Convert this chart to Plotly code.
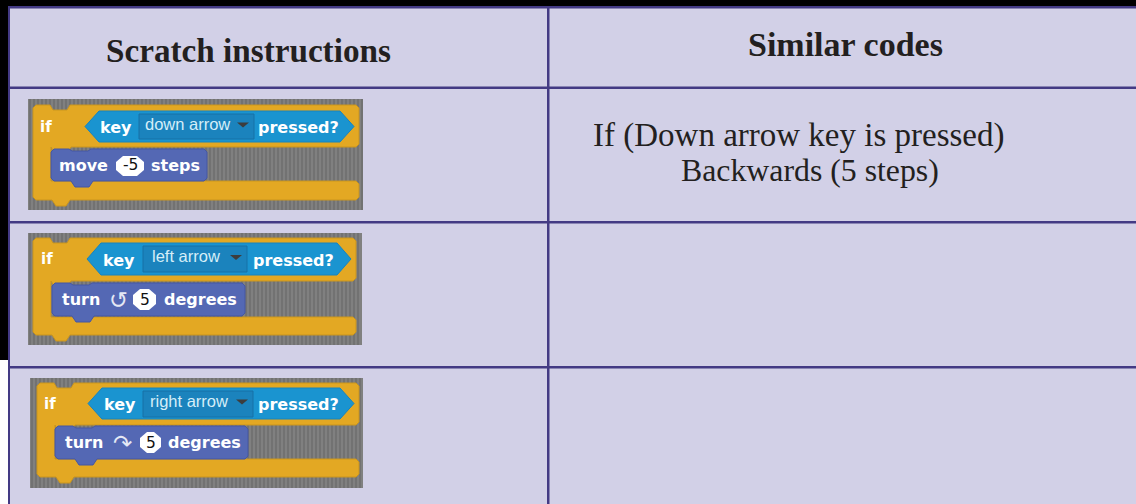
import plotly.graph_objects as go

# ---- content ----
headers = ["Scratch instructions", "Similar codes"]
conditions = ["down arrow", "left arrow", "right arrow"]
verbs = ["move", "turn", "turn"]
icons = ["", "\u21ba", "\u21b7"]
amounts = ["-5", "5", "5"]
units = ["steps", "degrees", "degrees"]
code_lines = ["If (Down arrow key is pressed)", "Backwards (5 steps)"]

# ---- layout constants ----
W, H = 1136, 504
BG = "#d2d0e7"; LINE = "#433a84"; ORANGE = "#e3a823"; ORANGE_D = "#c9951f"
BLUE = "#1a94d0"; DROP = "#1b83bd"; PURPLE = "#5468b4"; GRAY = "#808080"; STRIPE = "#6e6e6e"
INK = "#231f20"
SERIF = "Liberation Serif"; SANS = "DejaVu Sans"

GEOM = [
 dict(g=(28,363,99,210), o=(33,359,105,147,181,200), h=(85,354,111,142), d=(139,254,114,139),
      b=(51,207,149,181), p=(118,142,157,175), key=116, cond=184, press=298, iff=46, verb=83, num=130,
      unit=175, icon=0),
 dict(g=(28,362,233,345), o=(33,356,238,281,317,335), h=(87,351,243,275), d=(143,247,246,272),
      b=(52,245,283,316), p=(135,154,290,309), key=119, cond=188, press=293, iff=47, verb=81, num=144.5,
      unit=200, icon=118),
 dict(g=(30,363,378,488), o=(37,359,383,425,459,477), h=(88,354,388,419), d=(143,253,391,417),
      b=(55,248,426,459), p=(142,159,433,452), key=120, cond=191, press=298, iff=50, verb=84, num=150.5,
      unit=204, icon=122),
]

shapes, notes = [], []

def rect(x0, y0, x1, y1, fill):
    shapes.append(dict(type="rect", x0=x0, y0=y0, x1=x1, y1=y1, fillcolor=fill, line_width=0, layer="below"))

def path(d, fill, line=None, lw=0):
    shapes.append(dict(type="path", path=d, fillcolor=fill, line=dict(color=line or fill, width=lw), layer="below"))

def txt(x, y, s, size, color, family=SANS, bold=False, anchor="center"):
    t = f"<b>{s}</b>" if bold else s
    notes.append(dict(x=x, y=y, text=t, showarrow=False, xanchor=anchor, yanchor="middle",
                      font=dict(size=size, color=color, family=family)))

# page frame
rect(0, 0, W, H, "#ffffff")
rect(0, 0, W, 7, "#000000")
rect(0, 0, 8, 360, "#000000")
rect(9, 7, W, H, BG)
for x0, y0, x1, y1 in [(8, 6, W, 8.5), (8, 6, 10, H), (547, 6, 549.5, H),
                       (8, 86.5, W, 89), (8, 221, W, 223.5), (8, 366, W, 368.5)]:
    rect(x0, y0, x1, y1, LINE)

# headers and code text
txt(248, 50, headers[0], 33.2, INK, SERIF, True)
txt(845, 44, headers[1], 34, INK, SERIF, True)
txt(798.5, 135, code_lines[0], 33, INK, SERIF)
txt(810, 170, code_lines[1], 31.8, INK, SERIF)

# scratch blocks
for i, g in enumerate(GEOM):
    x0, x1, y0, y1 = g["g"]
    rect(x0, y0, x1, y1, GRAY)
    stripes = " ".join(f"M{x},{y0} V{y1}" for x in range(x0 + 2, x1, 4))
    shapes.append(dict(type="path", path=stripes, line=dict(color=STRIPE, width=1.5), layer="below"))

    l, r, top, hb, at, ab = g["o"]
    d = (f"M{l+3},{top} H{l+17} L{l+20},{top+5} H{l+34} L{l+37},{top} H{r-3} L{r},{top+3} V{hb-3} L{r-3},{hb} "
         f"H{l+38} L{l+35},{hb+5} H{l+21} L{l+18},{hb} V{at} H{r-3} L{r},{at+3} V{ab-3} L{r-3},{ab} "
         f"H{l+37} L{l+33},{ab+6} H{l+23} L{l+19},{ab} H{l+3} L{l},{ab-3} V{top+3} Z")
    path(d, ORANGE, ORANGE_D, 1)
    txt(g["iff"], (g["h"][2] + g["h"][3]) / 2, "if", 15, "#ffffff", SANS, True)

    hx0, hx1, hy0, hy1 = g["h"]
    ym = (hy0 + hy1) / 2
    path(f"M{hx0},{ym} L{hx0+14},{hy0} H{hx1-14} L{hx1},{ym} L{hx1-14},{hy1} H{hx0+14} Z", BLUE, "#1784be", 1)
    dx0, dx1, dy0, dy1 = g["d"]
    shapes.append(dict(type="rect", x0=dx0, y0=dy0, x1=dx1, y1=dy1, fillcolor=DROP,
                       line=dict(color="#1670a6", width=1), layer="below"))
    path(f"M{dx1-17},{ym-4} H{dx1-5} L{dx1-11},{ym+1} Z", "#3d3d3d")
    txt(g["key"], ym + 1, "key", 16, "#ffffff", SANS, True)
    txt((dx0 + dx1 - 18) / 2, ym - 3, conditions[i], 16.5, "#d5eef8", "Liberation Sans")
    txt(g["press"], ym + 1, "pressed?", 16, "#ffffff", SANS, True)

    bx0, bx1, by0, by1 = g["b"]
    path(f"M{bx0+3},{by0} H{bx0+18} L{bx0+21},{by0+2} H{bx0+37} L{bx0+40},{by0} H{bx1-3} L{bx1},{by0+3} V{by1-3} L{bx1-3},{by1} "
         f"H{bx0+42} L{bx0+38},{by1+6} H{bx0+24} L{bx0+20},{by1} H{bx0+3} L{bx0},{by1-3} V{by0+3} Z",
         PURPLE, "#4557a3", 1)
    bm = (by0 + by1) / 2
    txt(g["verb"], bm, verbs[i], 16, "#ffffff", SANS, True)
    px0, px1, py0, py1 = g["p"]
    path(f"M{px0-2},{py0+5} L{px0+5},{py0-1} H{px1-5} L{px1+2},{py0+5} V{py1-5} L{px1-5},{py1+1} H{px0+5} L{px0-2},{py1-5} Z", "#ffffff")
    txt(g["num"], bm, amounts[i], 15.5, "#111111", SANS)
    if icons[i]:
        txt(g["icon"], bm, icons[i], 23, "#e4e8f5", SANS)
    txt(g["unit"], bm, units[i], 16, "#ffffff", SANS, True)

fig = go.Figure()
fig.update_layout(
    width=W, height=H, autosize=False, margin=dict(l=0, r=0, t=0, b=0),
    paper_bgcolor="#ffffff", plot_bgcolor="#ffffff", showlegend=False,
    xaxis=dict(range=[0, W], visible=False, fixedrange=True),
    yaxis=dict(range=[H, 0], visible=False, fixedrange=True),
    shapes=shapes, annotations=notes,
)
fig.write_html("out.html", config={"displayModeBar": False},
               post_script="document.body.style.margin='0';document.body.style.overflow='hidden';")
